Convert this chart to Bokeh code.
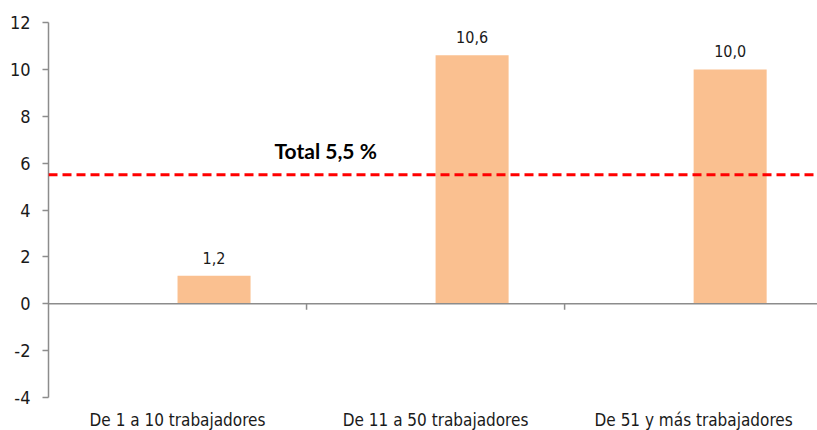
from bokeh.plotting import figure
from bokeh.models import Range1d, LinearAxis, FixedTicker, Span, Label, ColumnDataSource, LabelSet
from bokeh.core.properties import value
from bokeh.embed import file_html
from bokeh.resources import INLINE

categories = ["De 1 a 10 trabajadores", "De 11 a 50 trabajadores", "De 51 y más trabajadores"]
values = [1.2, 10.6, 10.0]
value_labels = ["1,2", "10,6", "10,0"]
total = 5.5
total_label = "Total 5,5 %"
y_ticks = [-4, -2, 0, 2, 4, 6, 8, 10, 12]

NARROW = "Liberation Sans Narrow, DejaVu Sans Condensed, sans-serif"
AXIS_GREY = "#8c8c8c"
bar_w = 0.283

centers = [i + 0.5 for i in range(len(categories))]
xs = [c + bar_w / 2 for c in centers]
src = ColumnDataSource(dict(x=xs, top=values, lab=value_labels))

p = figure(frame_width=769, frame_height=375,
           x_range=Range1d(0, 2.98), y_range=Range1d(-4, 12),
           x_axis_type=None, y_axis_type=None,
           output_backend="svg", toolbar_location=None,
           min_border_left=48, min_border_right=0, min_border_top=22, min_border_bottom=33)
p.outline_line_color = None
p.background_fill_color = "white"
p.border_fill_color = "white"
p.xgrid.visible = False
p.ygrid.visible = False

# y axis
yax = LinearAxis(ticker=FixedTicker(ticks=y_ticks),
                 major_label_overrides={t: str(t) for t in y_ticks})
yax.axis_line_color = AXIS_GREY
yax.axis_line_width = 1.5
yax.major_tick_line_color = AXIS_GREY
yax.major_tick_line_width = 1.5
yax.major_tick_out = 6
yax.major_tick_in = 0
yax.minor_tick_line_color = None
yax.major_label_standoff = 12
yax.major_label_text_font = NARROW
yax.major_label_text_font_size = "18px"
yax.major_label_text_color = "#1a1a1a"
p.add_layout(yax, "left")

# x category labels
xax = LinearAxis(ticker=FixedTicker(ticks=centers),
                 major_label_overrides={c: n for c, n in zip(centers, categories)})
xax.axis_line_color = None
xax.major_tick_line_color = None
xax.minor_tick_line_color = None
xax.major_label_standoff = 6
xax.major_label_text_font = NARROW
xax.major_label_text_font_size = "17px"
xax.major_label_text_color = "#1a1a1a"
p.add_layout(xax, "below")

# zero line with boundary ticks
p.add_layout(Span(location=0, dimension="width", line_color=AXIS_GREY, line_width=1.5))
bounds = list(range(1, len(categories)))
p.segment(x0=bounds, y0=[0] * len(bounds), x1=bounds, y1=[-0.26] * len(bounds),
          line_color=AXIS_GREY, line_width=1.5)

# bars
p.vbar(x="x", top="top", bottom=0, width=bar_w, source=src,
       fill_color="#FAC090", line_color=None)

p.add_layout(LabelSet(x="x", y="top", text="lab", source=src, y_offset=12,
                      text_align="center", text_baseline="alphabetic",
                      text_font=value(NARROW), text_font_size=value("16px"),
                      text_color="#1a1a1a"))

# total line
p.add_layout(Span(location=total, dimension="width", line_color="#FF0000",
                  line_width=3, line_dash="9 5"))
p.add_layout(Label(x=0.876, y=6.54, text=total_label, text_font="Lato",
                   text_font_style="bold", text_font_size="21px",
                   text_baseline="alphabetic", text_color="#000000"))

open("out.html", "w").write(file_html(p, INLINE))
